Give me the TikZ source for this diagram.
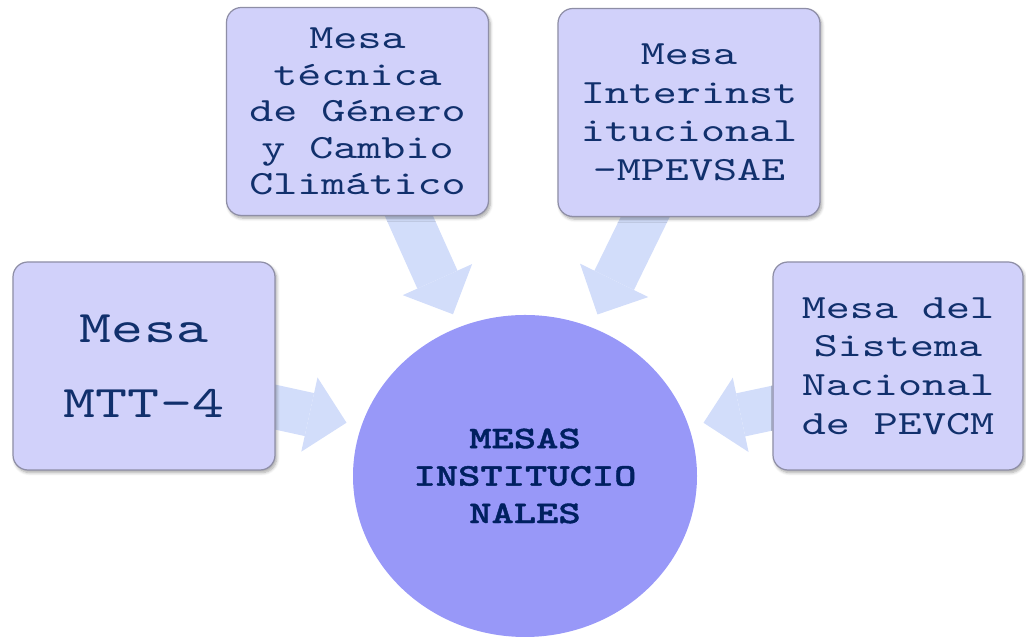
\documentclass[tikz,border=0pt]{standalone}
\usepackage{xcolor}
\usepackage{tikz}
\usepackage{fontspec}
\usetikzlibrary{shapes.geometric, arrows.meta, positioning, calc, backgrounds, shadows.blur}
\newfontfamily\mesafont{lmmono10-regular}[Extension=.otf, BoldFont=lmmonolt10-bold, FakeStretch=1.35]
\newfontfamily\corefont{lmmonolt10-bold}[Extension=.otf, FakeStretch=1.35, FakeBold=1.2]
\definecolor{mesafill}{HTML}{D1D1FA}
\definecolor{mesaline}{HTML}{8E8EA6}
\definecolor{mesatext}{HTML}{11306C}
\definecolor{corefill}{HTML}{9898F8}
\definecolor{coretext}{HTML}{002060}
\definecolor{arrowblue}{HTML}{D2DDFA}

\begin{document}
\begin{tikzpicture}[
  mesabox/.style={rectangle, rounded corners=8.5pt, draw=mesaline, line width=0.7pt, fill=mesafill, text=mesatext, align=center, inner sep=0pt, minimum width=5.24cm, minimum height=4.16cm, font=\mesafont\fontsize{19.3}{22}\selectfont, blur shadow={shadow xshift=1pt, shadow yshift=-1.5pt, shadow blur steps=6, shadow opacity=35}},
  corenode/.style={ellipse, fill=corefill, text=coretext, align=center, inner sep=0pt, minimum width=6.88cm, minimum height=6.44cm, font=\corefont\fontsize{17.9}{21.3}\selectfont},
  blockarrow/.style={draw=arrowblue, line width=0.88cm, -{Triangle[width=1.52cm, length=0.76cm, line width=0pt]}}
]
  \useasboundingbox (0,0) rectangle (20.52,12.8);

  % Centre
  \node[corenode] (mesas) at (10.5,3.28) {MESAS\\INSTITUCIO\\NALES};

  % Boxes round the centre
  \node[mesabox, font=\mesafont\fontsize{25.7}{42.7}\selectfont] (mtt) at (2.88,5.48) {Mesa\\MTT-4};
  \node[mesabox, font=\mesafont\fontsize{19.3}{20.8}\selectfont] (genero) at (7.15,10.57) {Mesa\\técnica\\de Género\\y Cambio\\Climático};
  \node[mesabox] (interinst) at (13.78,10.55) {Mesa\\Interinst\\itucional\\-MPEVSAE};
  \node[mesabox, minimum width=5cm] (pevcm) at (17.96,5.48) {Mesa del\\Sistema\\Nacional\\de PEVCM};

  % Arrows
  \begin{scope}[on background layer]
    \draw[blockarrow, shorten >=0.3cm] ([xshift=-0.2cm, yshift=-0.78cm]mtt.east) -- (mesas.163);
    \draw[blockarrow, shorten >=0.28cm] ([xshift=0.94cm, yshift=0.2cm]genero.south) -- (mesas.114);
    \draw[blockarrow, shorten >=0.28cm] ([xshift=-0.78cm, yshift=0.2cm]interinst.south) -- (mesas.66);
    \draw[blockarrow, shorten >=0.3cm] ([xshift=0.2cm, yshift=-0.8cm]pevcm.west) -- (mesas.17);
  \end{scope}
\end{tikzpicture}
\end{document}
